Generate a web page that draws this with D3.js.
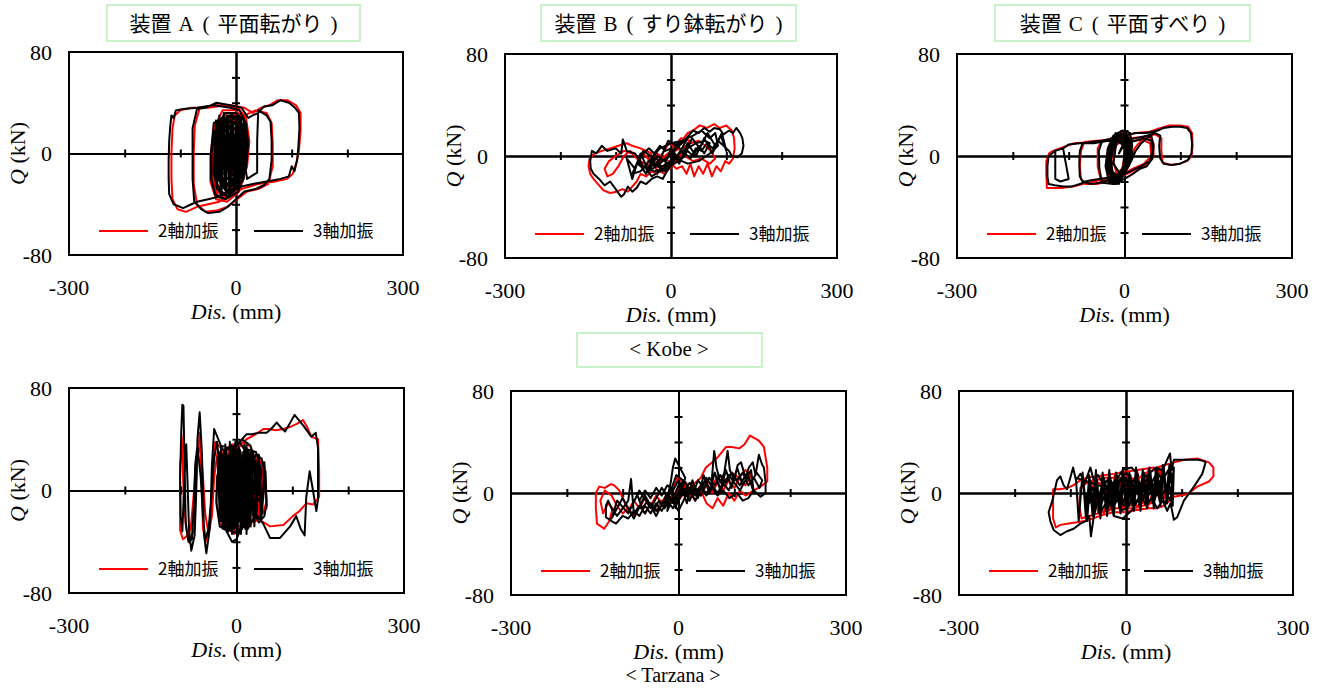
<!DOCTYPE html>
<html>
<head>
<meta charset="UTF-8">
<style>
  body { margin: 0; background: #fff; }
  svg text { font-family: "Liberation Serif", "Times New Roman", serif; fill: #000; }
  svg .jp { font-family: "Noto Sans CJK JP", sans-serif; }
</style>
</head>
<body>
<svg id="chart" width="1323" height="688"></svg>
<script src="https://d3js.org/d3.v7.min.js"></script>
<script>
// ---- text / ticks ----
// device titles split in parts: [name, letter, type]
const deviceTitles = [["装置", "A", "平面転がり"], ["装置", "B", "すり鉢転がり"], ["装置", "C", "平面すべり"]];
const waveLabels = ["< Kobe >", "< Tarzana >"];
const seriesNames = ["2軸加振", "3軸加振"];
const xTicks = [-200, -100, 100, 200];
const yTicks = [-60, -40, -20, 20, 40, 60];
const xTickLabels = [-300, 0, 300];
const yTickLabels = [80, 0, -80];

// ---- hysteresis data [Dis (mm), Q (kN)] ----
// Kobe, device A
const kobeA2 = [[0,0],[10,14],[6,24],[-8,28],[-24,22],[-32,4],[-32,-14],[-22,-26],[-6,-28],[6,-14],[12,4],[14,20],[2,30],[-16,32],[-32,22],[-40,2],[-42,-16],[-34,-30],[-16,-34],[2,-28],[16,-10],[20,10],[14,28],[-2,34],[-24,34],[-40,20],[-46,-2],[-46,-22],[-36,-36],[-16,-38],[6,-30],[20,-10],[24,10],[18,28],[4,36],[-20,38],[-50,36],[-80,36],[-100,34],[-110,30],[-114,20],[-116,0],[-116,-20],[-114,-36],[-105,-44],[-90,-46],[-70,-42],[-50,-40],[-30,-38],[-10,-32],[10,-28],[40,-24],[70,-22],[92,-20],[102,-16],[108,-8],[113,2],[116,18],[116,32],[108,38],[92,42],[75,42],[60,38],[45,36],[30,32],[15,36],[-10,38],[-40,38],[-65,36],[-74,22],[-76,0],[-76,-24],[-70,-40],[-55,-46],[-35,-45],[-15,-42],[2,-36],[20,-30],[40,-28],[58,-24],[66,-10],[66,8],[64,24],[55,32],[35,34],[15,30],[0,26],[-20,28],[-38,22],[-44,0],[-42,-22],[-32,-34],[-12,-34],[4,-24],[14,-6],[16,12],[8,24],[-8,26],[-22,18],[-28,2],[-26,-14],[-14,-20],[-2,-10],[2,4],[-4,10],[12,22],[-4,30],[-26,26],[-38,6],[-38,-20],[-24,-32],[-2,-28],[14,-8],[16,14],[2,26],[-18,24],[-30,6],[-30,-16],[-16,-26],[2,-18],[8,2],[2,18],[-12,20],[-22,6],[-20,-12],[-8,-16],[0,-4]];
const kobeA3 = [[0,0],[8,12],[5,22],[-8,26],[-22,20],[-30,5],[-30,-12],[-22,-24],[-8,-26],[4,-14],[10,2],[12,18],[2,28],[-14,30],[-30,22],[-38,4],[-40,-14],[-34,-28],[-18,-32],[0,-26],[14,-10],[18,8],[14,26],[0,32],[-20,32],[-36,20],[-44,0],[-44,-20],[-36,-34],[-18,-36],[4,-30],[18,-12],[22,8],[18,24],[6,34],[-10,36],[-40,38],[-70,36],[-95,35],[-108,34],[-112,28],[-116,30],[-118,22],[-120,10],[-121,-5],[-121,-20],[-120,-32],[-112,-40],[-95,-43],[-80,-40],[-70,-38],[-50,-36],[-30,-34],[-10,-30],[10,-26],[30,-24],[55,-22],[80,-20],[95,-18],[100,-10],[105,-14],[110,-5],[112,5],[114,20],[113,32],[106,36],[95,40],[80,42],[65,38],[50,37],[40,32],[30,30],[22,28],[10,36],[-10,38],[-35,40],[-55,36],[-70,35],[-78,20],[-78,0],[-78,-20],[-75,-38],[-62,-44],[-50,-47],[-30,-46],[-15,-42],[0,-36],[15,-30],[35,-28],[50,-25],[60,-20],[64,-5],[64,10],[62,25],[55,30],[40,34],[38,10],[38,-15],[20,-20],[5,22],[-10,26],[-25,28],[-40,24],[-45,0],[-45,-20],[-38,-32],[-20,-36],[0,-28],[15,-12],[20,8],[10,24],[-5,28],[-20,22],[-30,8],[-32,-10],[-25,-22],[-10,-24],[2,-12],[6,4],[0,14],[-10,16],[-18,6],[-18,-8],[-10,-12],[-2,-4],[14,20],[4,30],[-20,28],[-36,10],[-40,-16],[-28,-32],[-6,-30],[12,-14],[18,10],[8,28],[-12,30],[-30,18],[-38,-6],[-34,-26],[-16,-34],[4,-24],[16,-2],[14,20],[0,28],[-22,24],[-34,4],[-32,-20],[-18,-30],[0,-22],[10,-4],[10,16],[-4,24],[-20,18],[-28,0],[-26,-18],[-12,-26],[2,-16],[8,2],[4,18],[-10,22],[-22,10],[-24,-8],[-16,-20],[-4,-16],[4,0],[0,14],[-12,14],[-18,2],[-14,-12],[-4,-8],[-2,4],[-8,8],[-10,0],[-36,26],[-34,-28],[-30,30],[-26,-32],[-22,32],[-18,-30],[-14,30],[-10,-32],[-6,30],[-2,-28],[2,28],[6,-26],[10,24],[14,-20],[16,16],[12,-22],[8,26],[4,-28],[0,30],[-4,-30],[-8,32],[-12,-30],[-16,30],[-20,-28],[-24,28],[-28,-26],[-32,24],[-36,-22],[-38,18]];
// Kobe, device B
const kobeB2 = [[0,0],[12,6],[-4,10],[-18,0],[-28,-10],[-12,-14],[6,-6],[22,4],[34,12],[18,14],[0,4],[-22,-4],[-45,-8],[-35,2],[-55,6],[-70,8],[-80,10],[-95,8],[-110,6],[-125,4],[-138,2],[-147,-2],[-149,-8],[-146,-14],[-140,-18],[-132,-22],[-122,-27],[-110,-29],[-98,-28],[-88,-26],[-78,-28],[-70,-24],[-62,-20],[-55,-14],[-45,-16],[-35,-12],[-25,-14],[-15,-8],[0,-6],[10,-10],[20,-8],[28,-14],[35,-6],[42,-16],[50,-8],[58,-14],[66,-6],[74,-16],[82,-8],[90,-12],[98,-4],[105,-6],[112,-2],[115,6],[114,14],[110,20],[100,24],[88,22],[78,25],[65,22],[52,24],[40,20],[30,18],[20,12],[10,8],[0,4],[-12,-2],[-25,2],[-38,-4],[-50,2],[-62,-2],[-74,4],[-85,0],[-95,-8],[-105,-14],[-115,-16],[-120,-10],[-112,-4],[-100,0],[-85,4],[-70,2],[-55,-4],[-40,-8],[-25,-6],[-10,-2],[5,4],[20,6],[35,10],[50,12],[62,8],[72,4],[80,-2],[70,-6],[55,-2],[40,-4],[25,0],[10,-2],[-5,-4]];
const kobeB3 = [[0,0],[10,8],[-5,12],[-15,2],[-25,-8],[-10,-12],[5,-4],[20,6],[30,14],[15,10],[0,2],[-20,-6],[-40,-12],[-30,-2],[-50,4],[-60,-4],[-70,-14],[-55,-12],[-40,-4],[-20,6],[0,10],[20,12],[40,16],[55,20],[70,14],[80,18],[85,8],[70,2],[50,-4],[30,-6],[10,-2],[-10,-10],[-30,-12],[-50,-8],[-65,2],[-80,4],[-87,13],[-90,2],[-100,6],[-115,4],[-125,8],[-135,2],[-143,4],[-146,-4],[-145,-10],[-140,-14],[-130,-18],[-120,-23],[-110,-20],[-100,-26],[-90,-32],[-85,-30],[-78,-24],[-70,-28],[-62,-25],[-55,-20],[-45,-22],[-35,-18],[-25,-16],[-15,-18],[-5,-10],[5,-6],[15,-4],[25,2],[35,-2],[45,6],[55,4],[65,10],[75,6],[85,12],[95,8],[105,4],[110,0],[120,-1],[128,2],[131,8],[129,14],[125,18],[118,22],[112,18],[105,20],[95,17],[88,21],[78,22],[70,19],[60,22],[50,18],[40,20],[30,15],[20,10],[10,6],[0,2],[-10,-4],[-20,-2],[-30,-8],[-40,-4],[-50,-10],[-60,-6],[-50,2],[-40,6],[-30,2],[-20,8],[-10,4],[0,6],[10,0],[20,-2],[30,4],[40,0],[50,8],[60,2],[70,10],[60,12],[45,10],[30,6],[15,2],[0,-4],[-15,-8],[-30,-6],[-45,-10],[-35,-16],[-20,-12],[-5,-6],[-25,0],[-40,-12],[-55,2],[-65,-10],[-80,-2],[-70,-18],[-60,-4],[-45,-14],[-30,2],[-15,-12],[0,6],[15,-6],[30,10],[45,0],[60,14],[75,2],[90,16],[100,4],[92,18],[80,8],[66,18],[52,6],[38,14],[24,0],[10,10],[-4,-8]];
// Kobe, device C
const kobeC2 = [[0,0],[10,10],[2,16],[-10,16],[-20,6],[-26,-8],[-22,-18],[-10,-20],[2,-12],[10,0],[12,12],[4,18],[-12,18],[-24,10],[-30,-4],[-28,-18],[-16,-22],[-2,-16],[10,-4],[18,6],[30,12],[45,15],[52,10],[52,0],[42,-6],[30,-8],[14,-12],[-5,-16],[-25,-20],[-42,-20],[-48,-8],[-48,6],[-40,12],[-20,14],[0,16],[20,18],[45,19],[65,22],[80,24],[100,24],[114,23],[121,18],[122,8],[120,0],[112,-4],[98,-6],[82,-7],[68,-5],[66,4],[66,14],[55,17],[35,15],[10,14],[-20,13],[-50,12],[-72,11],[-78,4],[-80,-8],[-78,-18],[-68,-22],[-50,-22],[-30,-20],[-10,-16],[15,-10],[35,-6],[48,0],[46,10],[30,13],[5,11],[-25,12],[-60,11],[-90,10],[-110,7],[-128,4],[-135,2],[-140,-4],[-140,-14],[-139,-25],[-128,-25],[-110,-25],[-92,-24],[-75,-22],[-55,-20],[-35,-18],[-15,-15],[5,-10],[14,0],[10,10],[-4,12],[-16,8],[-20,-4],[-14,-14],[-4,-10],[0,0]];
const kobeC3 = [[0,0],[8,10],[0,16],[-12,14],[-22,4],[-28,-8],[-24,-18],[-12,-20],[0,-12],[8,0],[10,12],[2,18],[-14,16],[-26,8],[-32,-6],[-30,-18],[-18,-22],[-4,-16],[8,-4],[14,8],[10,18],[-4,20],[-20,16],[-30,6],[-34,-8],[-28,-20],[-14,-22],[0,-14],[12,-4],[20,4],[30,10],[40,14],[48,16],[52,8],[50,-2],[40,-8],[28,-10],[15,-14],[0,-18],[-20,-22],[-40,-21],[-45,-10],[-46,4],[-40,12],[-20,14],[0,16],[20,18],[40,18],[60,20],[70,22],[85,23],[100,23],[112,22],[119,18],[121,10],[120,2],[114,-3],[100,-6],[85,-7],[70,-6],[64,-2],[62,8],[64,16],[55,18],[40,16],[20,14],[0,12],[-20,12],[-40,12],[-60,11],[-75,10],[-80,4],[-81,-6],[-80,-16],[-75,-20],[-60,-22],[-45,-21],[-30,-19],[-10,-16],[10,-12],[30,-8],[45,-4],[50,4],[48,12],[35,14],[20,12],[0,10],[-30,12],[-55,10],[-80,10],[-100,9],[-110,6],[-124,4],[-124,-4],[-124,-18],[-115,-20],[-100,-18],[-110,6],[-125,4],[-130,2],[-136,0],[-138,-8],[-138,-16],[-136,-22],[-125,-23],[-110,-24],[-95,-24],[-80,-22],[-70,-20],[-60,-19],[-45,-18],[-30,-17],[-10,-14],[8,-8],[14,2],[10,12],[-4,14],[-18,10],[-24,-2],[-22,-12],[-12,-16],[-2,-8],[2,4],[-4,8],[-10,2],[6,14],[-20,16],[-32,-10],[-10,-22],[8,8],[-6,18],[-28,8],[-24,-20],[0,-14],[4,12],[-16,18],[-30,0],[-18,-22],[2,-6],[-2,16],[-24,14],[-28,-14],[-6,-20],[6,2],[-10,16],[-26,4],[-20,-18],[-2,-10],[0,8],[-14,12],[-20,-6],[-8,-14]];
// Tarzana, device A
const tarA2 = [[0,0],[12,14],[2,26],[-12,22],[-24,6],[-28,-14],[-18,-26],[-4,-22],[10,-6],[18,12],[8,30],[-8,36],[-24,30],[-34,12],[-36,-8],[-30,-26],[-14,-30],[2,-24],[16,-8],[26,10],[22,28],[8,36],[-10,30],[-22,12],[-24,-12],[-16,-28],[0,-32],[16,-20],[28,0],[34,18],[26,34],[12,38],[-4,32],[-25,32],[-38,38],[-42,18],[-45,-8],[-48,-26],[-55,-40],[-60,-30],[-62,0],[-64,28],[-66,45],[-70,30],[-73,0],[-76,-30],[-84,-41],[-90,-30],[-94,-10],[-96,15],[-97,30],[-94,46],[-98,30],[-101,21],[-101,-10],[-101,-31],[-96,-38],[-90,-36],[-82,-30],[-76,0],[-72,25],[-65,34],[-60,10],[-56,-18],[-50,-34],[-44,-20],[-40,10],[-34,30],[-28,15],[-24,-10],[-18,-28],[-5,-34],[8,-30],[20,-26],[32,-24],[42,-23],[60,-28],[84,-27],[101,-20],[113,-16],[125,-10],[137,-11],[148,-5],[148,15],[146,40],[134,42],[126,50],[119,55],[108,52],[98,50],[84,48],[70,47],[58,48],[48,48],[35,44],[18,40],[8,36],[-4,28],[-14,14],[-18,-6],[-12,-22],[2,-24],[14,-12],[22,6],[30,20],[42,24],[50,12],[54,-8],[48,-18],[36,-16],[40,4],[42,18],[30,28],[14,28],[2,18],[-6,4],[-8,-12],[0,-18],[8,-8],[10,6],[4,14],[-4,8],[-2,-2],[-28,28],[-22,-26],[-14,30],[-8,-28],[0,32],[8,-30],[16,30],[24,-24],[32,26],[40,-20],[48,22],[54,-14],[50,18],[42,-22],[34,28],[26,-28],[18,32],[10,-30],[2,28],[-6,-26],[-14,26],[-22,-22],[-30,20],[-20,-18],[-8,22],[4,-20],[16,20],[28,-16],[40,14]];
const tarA3 = [[0,0],[10,15],[0,25],[-15,20],[-25,5],[-30,-15],[-20,-25],[-5,-20],[8,-5],[15,12],[5,30],[-10,35],[-25,28],[-35,10],[-36,-10],[-30,-28],[-15,-32],[0,-25],[15,-10],[25,8],[20,28],[5,38],[-12,30],[-20,10],[-22,-12],[-15,-30],[2,-34],[18,-20],[30,0],[35,20],[25,35],[10,40],[-5,32],[-28,35],[-40,48],[-44,20],[-46,-10],[-48,-30],[-54,-49],[-58,-35],[-60,0],[-62,30],[-66,61],[-70,40],[-72,0],[-75,-35],[-81,-47],[-85,-30],[-88,10],[-90,36],[-92,20],[-95,-10],[-97,-32],[-100,-20],[-101,10],[-99,45],[-97,67],[-95,66],[-93,20],[-91,-25],[-86,-40],[-80,-38],[-76,-10],[-74,20],[-70,35],[-64,10],[-60,-20],[-56,-38],[-50,-30],[-45,-5],[-40,25],[-35,38],[-30,20],[-26,-10],[-20,-30],[-8,-40],[0,-38],[10,-28],[20,-30],[30,-22],[38,-20],[48,-26],[60,-37],[78,-37],[96,-28],[107,-20],[115,-30],[122,-35],[125,-5],[131,15],[137,0],[143,-16],[146,-7],[146,10],[146,33],[142,45],[134,42],[119,51],[104,59],[95,52],[87,46],[80,49],[72,53],[62,48],[54,45],[40,45],[28,44],[18,44],[10,40],[0,35],[-10,25],[-20,10],[-25,-12],[-20,-28],[-5,-30],[10,-20],[20,0],[25,20],[35,28],[45,25],[52,10],[54,-10],[50,-20],[40,-25],[30,-15],[40,0],[45,15],[35,30],[20,32],[5,25],[-5,10],[-10,-10],[-5,-22],[5,-18],[12,-5],[15,10],[8,20],[-2,15],[-6,2],[-2,-8],[4,-2],[-30,30],[-25,-28],[-18,32],[-12,-30],[-6,34],[0,-32],[6,30],[12,-28],[18,35],[24,-25],[30,30],[36,-22],[40,28],[46,-18],[50,22],[54,-12],[52,15],[44,-24],[38,26],[32,-28],[26,32],[20,-30],[14,34],[8,-34],[2,32],[-4,-30],[-10,28],[-16,-26],[-22,30],[-28,-24],[-34,26],[-30,-20],[-20,24],[-10,-22],[0,26],[10,-24],[20,22],[30,-20],[40,18],[45,-10],[-28,34],[-24,-30],[-20,36],[-16,-32],[-12,38],[-8,-34],[-4,36],[0,-30],[4,34],[8,-32],[12,30],[16,-30],[20,32],[24,-28],[22,30],[18,-34],[14,36],[10,-30],[6,32],[2,-34],[-2,38],[-6,-30],[-10,34],[-14,-28],[-18,30],[-22,-26],[-26,28],[-24,20],[-20,-20],[-16,24],[-12,-24],[-8,26],[-4,-22],[0,24]];
// Tarzana, device B
const tarB2 = [[0,0],[10,8],[-2,12],[-10,2],[-6,-8],[6,-2],[14,8],[20,2],[30,-6],[40,2],[50,-8],[61,-12],[70,-4],[80,-10],[90,0],[100,-6],[110,2],[120,-2],[135,2],[147,5],[159,9],[159,20],[153,36],[144,41],[128,45],[118,38],[109,35],[95,36],[85,36],[70,28],[60,24],[49,20],[40,12],[30,8],[20,4],[10,6],[0,0],[-10,-6],[-20,0],[-30,-8],[-40,-2],[-50,-10],[-60,-4],[-70,-12],[-80,-6],[-90,-14],[-100,-4],[-106,2],[-115,6],[-121,7],[-132,4],[-142,5],[-148,0],[-148,-12],[-146,-24],[-133,-28],[-124,-22],[-118,-12],[-126,-8],[-135,-16],[-140,-6],[-132,2],[-120,-2],[-110,-10],[-100,-16],[-90,-12],[-80,-18],[-70,-10],[-60,-16],[-50,-8],[-40,-14],[-30,-6],[-20,-10],[-10,-2],[0,-6],[10,0],[20,-4],[30,4],[40,-2],[50,6],[60,0],[70,8],[80,2],[90,10],[100,4],[110,12],[120,6],[130,14],[120,18],[108,12],[96,16],[84,10],[72,14],[60,6],[48,10],[36,2],[24,6],[12,0],[0,4],[-8,-4]];
const tarB3 = [[0,0],[8,10],[-4,14],[-12,4],[-8,-6],[4,-2],[12,12],[-6,27],[-10,20],[-14,8],[-20,-4],[-30,-10],[-40,-14],[-50,-8],[-60,-16],[-70,-10],[-80,-16],[-85,11],[-90,-6],[-100,-12],[-110,-18],[-120,-12],[-126,-6],[-130,-10],[-130,-19],[-120,-22],[-112,-24],[-100,-18],[-90,-20],[-80,-14],[-70,-18],[-60,-10],[-50,-16],[-40,-8],[-30,-14],[-20,-6],[-10,-12],[0,-4],[10,2],[20,-6],[30,4],[40,-2],[50,8],[58,2],[64,33],[68,20],[75,8],[82,16],[88,33],[92,18],[100,10],[106,22],[112,24],[120,12],[126,20],[133,24],[138,14],[144,30],[150,22],[153,20],[156,8],[156,0],[147,-3],[135,2],[125,-4],[115,-6],[105,0],[91,-4],[80,2],[70,-2],[60,4],[50,-2],[40,6],[30,0],[20,8],[10,2],[0,10],[-10,2],[-20,6],[-30,-2],[-40,4],[-50,-4],[-60,2],[-70,-6],[-75,0],[-65,-12],[-55,-6],[-45,-14],[-35,-6],[-25,-12],[-15,-4],[-5,-10],[5,-2],[15,4],[25,-2],[35,10],[45,4],[55,12],[65,6],[75,14],[85,8],[95,16],[105,10],[115,16],[125,6],[135,12],[145,4],[150,10],[140,16],[130,8],[120,14],[110,6],[100,12],[90,2],[80,8],[70,0],[60,6],[50,0],[40,4],[30,-2],[20,4],[10,-2],[0,6],[-8,-2],[-20,-14],[-15,4],[-5,-12],[5,6],[15,-8],[25,10],[35,-4],[45,14],[55,0],[65,16],[75,2],[85,18],[95,4],[105,20],[115,6],[125,14],[135,0],[130,18],[110,2],[90,14],[70,-2],[50,12],[30,-6],[10,10],[-10,-8],[-30,4],[-50,-12],[-70,2],[-90,-16],[-110,-6],[-120,-20],[-100,-4],[-80,-20],[-60,-2],[-40,-18],[-20,0],[0,-14],[20,4]];
// Tarzana, device C
const tarC2 = [[0,0],[10,8],[2,14],[-10,10],[-14,-2],[-6,-12],[8,-8],[16,4],[24,12],[36,16],[50,18],[56,20],[70,22],[86,24],[105,26],[128,27],[149,24],[157,20],[157,13],[149,9],[128,5],[110,-1],[86,-3],[68,-10],[55,-12],[40,-12],[25,-13],[10,-14],[-5,-15],[-22,-15],[-40,-17],[-60,-20],[-75,-22],[-88,-23],[-103,-24],[-118,-25],[-126,-27],[-131,-20],[-131,-8],[-131,3],[-120,3],[-105,4],[-95,6],[-82,10],[-70,12],[-55,13],[-40,14],[-22,15],[-10,16],[5,17],[20,18],[35,19],[50,20],[56,14],[54,0],[45,-8],[30,-10],[14,-12],[-2,-12],[-18,-12],[-34,-14],[-50,-16],[-66,-18],[-80,-20],[-84,-10],[-82,4],[-70,8],[-54,10],[-38,12],[-20,12],[-6,12],[8,12],[20,10],[30,4],[32,-6],[22,-10],[6,-8],[-10,-6],[-20,0],[-14,8],[-2,6],[4,-2],[-60,10],[-50,-16],[-40,12],[-30,-14],[-20,14],[-10,-12],[0,16],[10,-10],[20,18],[30,-8],[40,18],[50,-6],[60,20],[70,-4],[60,16],[40,-10],[20,14],[0,-12],[-20,10],[-40,-16],[-60,6]];
const tarC3 = [[0,0],[10,10],[0,16],[-12,10],[-16,-4],[-8,-14],[6,-10],[14,4],[22,14],[10,20],[-6,18],[-20,8],[-28,-8],[-22,-18],[-6,-20],[10,-14],[24,-4],[34,8],[44,16],[54,20],[64,18],[70,22],[79,31],[82,18],[86,26],[100,26],[115,26],[130,26],[140,25],[143,24],[137,15],[122,5],[104,-6],[92,-19],[86,-21],[80,-8],[74,-14],[66,-6],[56,-12],[46,-4],[36,-10],[26,-2],[16,-8],[6,-2],[-4,-10],[-14,-4],[-24,-12],[-34,-6],[-44,-14],[-50,-4],[-58,-19],[-63,-34],[-66,-18],[-72,-22],[-82,-24],[-94,-28],[-106,-30],[-118,-33],[-130,-29],[-136,-22],[-139,-15],[-133,-7],[-128,2],[-124,10],[-118,13],[-112,6],[-106,3],[-100,12],[-95,20],[-90,10],[-82,15],[-74,8],[-64,20],[-58,10],[-50,14],[-40,6],[-30,12],[-20,4],[-10,10],[0,2],[10,8],[20,0],[30,6],[40,-2],[50,4],[60,-4],[70,2],[80,-6],[86,20],[84,-10],[78,6],[70,-10],[60,8],[50,-8],[40,10],[30,-6],[20,12],[10,-4],[0,12],[-10,-2],[-20,10],[-30,-4],[-40,12],[-50,-6],[-60,4],[-70,-10],[-76,2],[-66,-8],[-56,2],[-46,-10],[-36,0],[-26,-10],[-16,2],[-6,-8],[4,4],[14,-4],[24,8],[34,0],[44,10],[54,2],[64,12],[74,4],[84,14],[76,18],[66,10],[56,16],[46,8],[36,14],[26,6],[16,12],[6,4],[-4,8],[-8,0],[-90,12],[-85,-22],[-78,16],[-72,-20],[-66,14],[-60,-18],[-54,18],[-48,-16],[-42,16],[-36,-14],[-30,18],[-24,-14],[-18,16],[-12,-12],[-6,18],[0,-12],[6,16],[12,-10],[18,20],[24,-10],[30,18],[36,-8],[42,20],[48,-8],[54,20],[60,-6],[66,22],[72,-4],[78,22],[84,0],[80,18],[74,-8],[68,20],[62,-10],[56,18],[50,-12],[44,16],[38,-12],[32,16],[26,-14],[20,14],[14,-14],[8,14],[2,-16],[-4,14],[-10,-16],[-16,14],[-22,-18],[-28,12],[-34,-18],[-40,12],[-46,-20],[-52,10],[-58,-20],[-64,10],[-70,-22],[-76,8]];

// ---- layout (pixel boxes of each plot area) ----
const panels = [
  { box: [69, 403, 52, 255],  red: kobeA2, black: kobeA3, title: 0, titleBox: [107, 360] },
  { box: [505, 837, 54, 258], red: kobeB2, black: kobeB3, title: 1, titleBox: [541, 796] },
  { box: [957, 1292, 54, 258], red: kobeC2, black: kobeC3, title: 2, titleBox: [995, 1250] },
  { box: [69, 404, 388, 593], red: tarA2, black: tarA3 },
  { box: [511, 846, 391, 595], red: tarB2, black: tarB3 },
  { box: [959, 1293, 391, 595], red: tarC2, black: tarC3 }
];

const svg = d3.select("#chart");
const boxGreen = "#c8f2c8";

panels.forEach(p => {
  const [x0, x1, y0, y1] = p.box;
  const x = d3.scaleLinear().domain([-300, 300]).range([x0, x1]);
  const y = d3.scaleLinear().domain([-80, 80]).range([y1, y0]);
  const g = svg.append("g");

  // zero axes with crossing ticks
  const ax = g.append("g").attr("transform", `translate(0,${y(0)})`);
  ax.append("g").call(d3.axisBottom(x).tickValues(xTicks).tickSize(4).tickSizeOuter(0).tickFormat(""));
  ax.append("g").call(d3.axisTop(x).tickValues(xTicks).tickSize(4).tickSizeOuter(0).tickFormat(""));
  const ay = g.append("g").attr("transform", `translate(${x(0)},0)`);
  ay.append("g").call(d3.axisLeft(y).tickValues(yTicks).tickSize(4).tickSizeOuter(0).tickFormat(""));
  ay.append("g").call(d3.axisRight(y).tickValues(yTicks).tickSize(4).tickSizeOuter(0).tickFormat(""));
  g.selectAll(".domain, .tick line").attr("stroke", "#000").attr("stroke-width", 2);

  // hysteresis curves
  const line = d3.line().x(d => x(d[0])).y(d => y(d[1]));
  g.append("path").datum(p.red).attr("d", line)
    .attr("fill", "none").attr("stroke", "#ff0000").attr("stroke-width", 2).attr("stroke-linejoin", "round");
  g.append("path").datum(p.black).attr("d", line)
    .attr("fill", "none").attr("stroke", "#000").attr("stroke-width", 2).attr("stroke-linejoin", "round");

  // frame
  g.append("rect").attr("x", x0).attr("y", y0).attr("width", x1 - x0).attr("height", y1 - y0)
    .attr("fill", "none").attr("stroke", "#000").attr("stroke-width", 2);

  // legend
  const ly = y1 - 24;
  [["#ff0000", 30, 79, 89], ["#000", 185, 234, 244]].forEach((l, i) => {
    g.append("line").attr("x1", x0 + l[1]).attr("x2", x0 + l[2]).attr("y1", ly).attr("y2", ly)
      .attr("stroke", l[0]).attr("stroke-width", 2);
    g.append("text").attr("class", "jp").attr("x", x0 + l[3]).attr("y", ly).attr("dy", "0.36em")
      .attr("font-size", 17).text(seriesNames[i]);
  });

  // tick labels
  g.selectAll(".ylab").data(yTickLabels).join("text")
    .attr("x", x0 - 17).attr("y", d => y(d)).attr("dy", "0.35em")
    .attr("text-anchor", "end").attr("font-size", 22).text(d => d);
  g.selectAll(".xlab").data(xTickLabels).join("text")
    .attr("x", d => x(d)).attr("y", y1 + 32).attr("dy", "0.35em")
    .attr("text-anchor", "middle").attr("font-size", 22).text(d => d);

  // axis titles
  const xt = g.append("text").attr("x", (x0 + x1) / 2).attr("y", y1 + 56).attr("dy", "0.35em")
    .attr("text-anchor", "middle").attr("font-size", 22);
  xt.append("tspan").attr("font-style", "italic").text("Dis.");
  xt.append("tspan").text(" (mm)");
  const yt = g.append("text").attr("text-anchor", "middle").attr("font-size", 22)
    .attr("transform", `translate(${x0 - 52},${(y0 + y1) / 2}) rotate(-90)`).attr("dy", "0.35em");
  yt.append("tspan").attr("font-style", "italic").text("Q");
  yt.append("tspan").text(" (kN)");

  // device title box
  if (p.titleBox) {
    const [bx0, bx1] = p.titleBox;
    const parts = deviceTitles[p.title];
    svg.append("rect").attr("x", bx0).attr("y", 5).attr("width", bx1 - bx0).attr("height", 36)
      .attr("fill", "none").attr("stroke", boxGreen).attr("stroke-width", 2);
    const t = svg.append("text").attr("x", (bx0 + bx1) / 2).attr("y", 23).attr("dy", "0.36em")
      .attr("text-anchor", "middle").attr("font-size", 21);
    t.append("tspan").attr("class", "jp").text(parts[0]);
    t.append("tspan").attr("dx", 7).text(parts[1]);
    t.append("tspan").attr("dx", 9).text("(");
    t.append("tspan").attr("class", "jp").attr("dx", 8).text(parts[2]);
    t.append("tspan").attr("dx", 8).text(")");
  }
});

// earthquake labels
svg.append("rect").attr("x", 577).attr("y", 333).attr("width", 185).attr("height", 34)
  .attr("fill", "none").attr("stroke", boxGreen).attr("stroke-width", 2);
svg.append("text").attr("x", 669).attr("y", 349).attr("dy", "0.35em")
  .attr("text-anchor", "middle").attr("font-size", 21).text(waveLabels[0]);
svg.append("text").attr("x", 673).attr("y", 675).attr("dy", "0.35em")
  .attr("text-anchor", "middle").attr("font-size", 20).text(waveLabels[1]);
</script>
</body>
</html>
